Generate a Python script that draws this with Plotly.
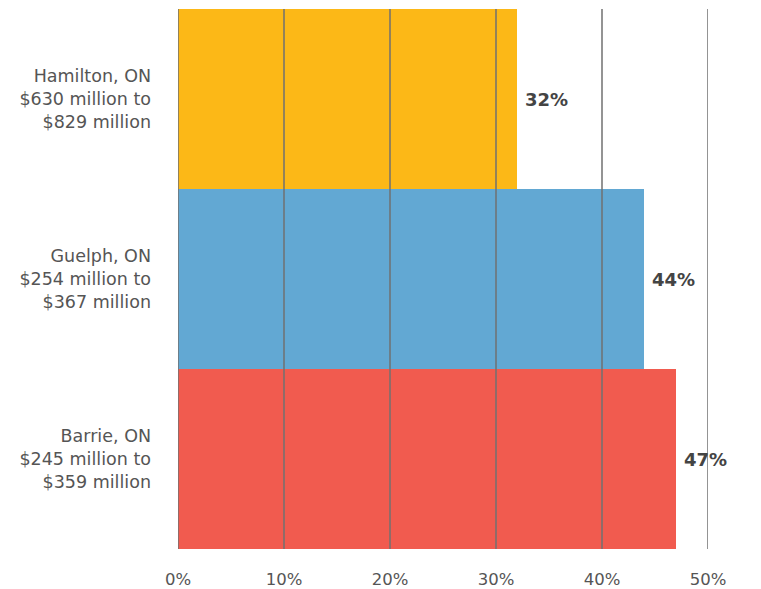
import plotly.graph_objects as go

# Share of economic impact by city (bottom to top)
cities = ["Barrie, ON<br>$245 million to<br>$359 million",
          "Guelph, ON<br>$254 million to<br>$367 million",
          "Hamilton, ON<br>$630 million to<br>$829 million"]
shares = [47, 44, 32]
colors = ["#F15B4F", "#62A8D3", "#FCB817"]
x_ticks = [0, 10, 20, 30, 40, 50]

font_family = "DejaVu Sans, Noto Sans, sans-serif"

fig = go.Figure(
    go.Bar(
        x=shares,
        y=cities,
        orientation="h",
        marker=dict(color=colors, line=dict(width=0)),
        hoverinfo="skip",
    )
)

# value labels just past the end of each bar
for city, val in zip(cities, shares):
    fig.add_annotation(
        x=val, y=city, xref="x", yref="y",
        text=f"<b>{val}%</b>", showarrow=False,
        xanchor="left", xshift=6,
        font=dict(family=font_family, size=18, color="#444444"),
    )

# vertical grid lines drawn on top of the bars
for t in x_ticks:
    fig.add_shape(
        type="line", xref="x", yref="paper",
        x0=t, x1=t, y0=0, y1=1,
        line=dict(color="#707070", width=1.5),
        layer="above",
    )

fig.update_layout(
    width=761, height=589,
    margin=dict(l=178, r=53, t=9, b=40),
    plot_bgcolor="white", paper_bgcolor="white",
    bargap=0,
    showlegend=False,
    font=dict(family=font_family, color="#555555"),
    xaxis=dict(
        range=[0, 50], tickvals=x_ticks, ticktext=[f"{t}%" for t in x_ticks],
        showgrid=False, zeroline=False, showline=False,
        tickfont=dict(size=16.5, color="#555555"),
        ticklabelstandoff=18, automargin=False,
    ),
    yaxis=dict(
        showgrid=False, zeroline=False, showline=False,
        tickfont=dict(size=17.5, color="#555555"),
        ticklabelstandoff=26, automargin=False,
    ),
)

fig.write_html("out.html")
